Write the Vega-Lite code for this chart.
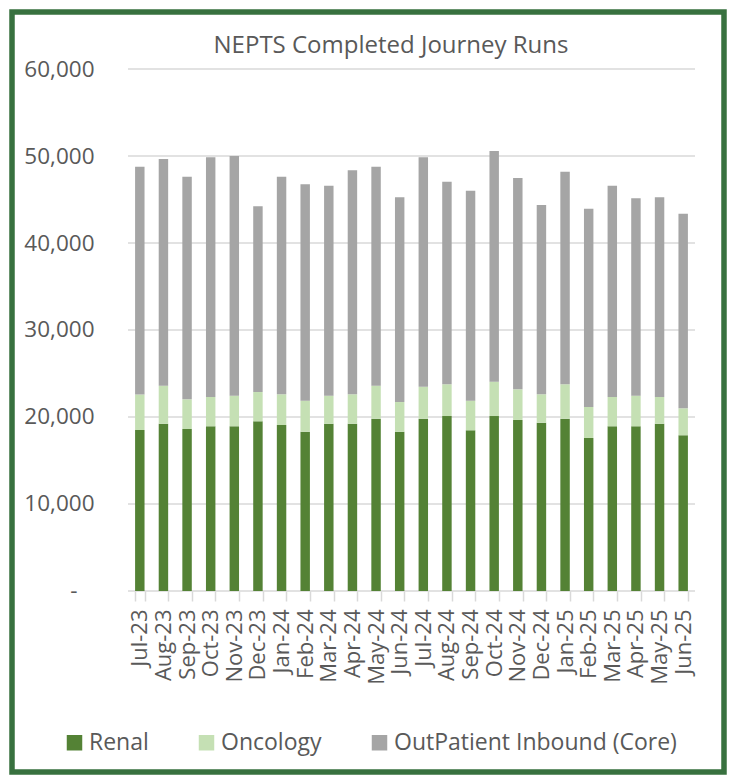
{
  "$schema": "https://vega.github.io/schema/vega-lite/v6.json",
  "width": 712,
  "height": 760,
  "autosize": {"type": "none"},
  "padding": {"left": 12, "top": 12, "right": 11, "bottom": 5},
  "background": "white",
  "config": {
    "view": {"stroke": "#38713f", "strokeWidth": 5.5},
    "font": "Open Sans"
  },
  "title": {
    "text": "NEPTS Completed Journey Runs",
    "fontSize": 24,
    "fontWeight": "normal",
    "color": "#595959",
    "anchor": "middle",
    "offset": -46,
    "dx": 23
  },
  "datasets": {
    "runs": [
      {"month": "Jul-23", "Renal": 18500, "Oncology": 4100, "OutPatient Inbound (Core)": 26160},
      {"month": "Aug-23", "Renal": 19230, "Oncology": 4370, "OutPatient Inbound (Core)": 26060},
      {"month": "Sep-23", "Renal": 18620, "Oncology": 3410, "OutPatient Inbound (Core)": 25590},
      {"month": "Oct-23", "Renal": 18930, "Oncology": 3370, "OutPatient Inbound (Core)": 27550},
      {"month": "Nov-23", "Renal": 18930, "Oncology": 3520, "OutPatient Inbound (Core)": 27550},
      {"month": "Dec-23", "Renal": 19500, "Oncology": 3370, "OutPatient Inbound (Core)": 21350},
      {"month": "Jan-24", "Renal": 19080, "Oncology": 3530, "OutPatient Inbound (Core)": 25010},
      {"month": "Feb-24", "Renal": 18310, "Oncology": 3570, "OutPatient Inbound (Core)": 24860},
      {"month": "Mar-24", "Renal": 19230, "Oncology": 3220, "OutPatient Inbound (Core)": 24140},
      {"month": "Apr-24", "Renal": 19230, "Oncology": 3380, "OutPatient Inbound (Core)": 25740},
      {"month": "May-24", "Renal": 19810, "Oncology": 3790, "OutPatient Inbound (Core)": 25170},
      {"month": "Jun-24", "Renal": 18310, "Oncology": 3410, "OutPatient Inbound (Core)": 23530},
      {"month": "Jul-24", "Renal": 19810, "Oncology": 3670, "OutPatient Inbound (Core)": 26370},
      {"month": "Aug-24", "Renal": 20110, "Oncology": 3650, "OutPatient Inbound (Core)": 23290},
      {"month": "Sep-24", "Renal": 18470, "Oncology": 3410, "OutPatient Inbound (Core)": 24130},
      {"month": "Oct-24", "Renal": 20110, "Oncology": 3950, "OutPatient Inbound (Core)": 26510},
      {"month": "Nov-24", "Renal": 19660, "Oncology": 3520, "OutPatient Inbound (Core)": 24290},
      {"month": "Dec-24", "Renal": 19350, "Oncology": 3260, "OutPatient Inbound (Core)": 21760},
      {"month": "Jan-25", "Renal": 19810, "Oncology": 3950, "OutPatient Inbound (Core)": 24440},
      {"month": "Feb-25", "Renal": 17590, "Oncology": 3560, "OutPatient Inbound (Core)": 22800},
      {"month": "Mar-25", "Renal": 18930, "Oncology": 3370, "OutPatient Inbound (Core)": 24290},
      {"month": "Apr-25", "Renal": 18930, "Oncology": 3520, "OutPatient Inbound (Core)": 22680},
      {"month": "May-25", "Renal": 19230, "Oncology": 3070, "OutPatient Inbound (Core)": 22950},
      {"month": "Jun-25", "Renal": 17900, "Oncology": 3100, "OutPatient Inbound (Core)": 22370}
    ],
    "grid": [
      {"level": 0, "from": "Jul-23", "to": "Jun-25"},
      {"level": 10000, "from": "Jul-23", "to": "Jun-25"},
      {"level": 20000, "from": "Jul-23", "to": "Jun-25"},
      {"level": 30000, "from": "Jul-23", "to": "Jun-25"},
      {"level": 40000, "from": "Jul-23", "to": "Jun-25"},
      {"level": 50000, "from": "Jul-23", "to": "Jun-25"},
      {"level": 60000, "from": "Jul-23", "to": "Jun-25"}
    ]
  },
  "layer": [
    {
      "data": {"name": "grid"},
      "mark": {"type": "rule", "color": "#d9d9d9", "strokeWidth": 1.5},
      "encoding": {
        "y": {
          "field": "level",
          "type": "quantitative",
          "title": null,
          "scale": {"domain": [-20805, 66552], "nice": false, "zero": false}
        },
        "x": {
          "field": "from",
          "type": "ordinal",
          "bandPosition": -0.75,
          "title": null,
          "scale": {
            "domain": ["Jul-23","Aug-23","Sep-23","Oct-23","Nov-23","Dec-23","Jan-24","Feb-24","Mar-24","Apr-24","May-24","Jun-24","Jul-24","Aug-24","Sep-24","Oct-24","Nov-24","Dec-24","Jan-25","Feb-25","Mar-25","Apr-25","May-25","Jun-25"],
            "range": [116, 683],
            "paddingInner": 0.6,
            "paddingOuter": 0.3
          }
        },
        "x2": {"field": "to", "bandPosition": 1.75}
      }
    },
    {
      "data": {"name": "runs"},
      "transform": [
        {"fold": ["Renal", "Oncology", "OutPatient Inbound (Core)"], "as": ["series", "runs"]},
        {"calculate": "indexof(['Renal','Oncology','OutPatient Inbound (Core)'], datum.series)", "as": "ord"}
      ],
      "mark": {"type": "bar"},
      "encoding": {
        "x": {
          "field": "month",
          "type": "ordinal",
          "sort": null,
          "title": null,
          "scale": {
            "domain": ["Jul-23","Aug-23","Sep-23","Oct-23","Nov-23","Dec-23","Jan-24","Feb-24","Mar-24","Apr-24","May-24","Jun-24","Jul-24","Aug-24","Sep-24","Oct-24","Nov-24","Dec-24","Jan-25","Feb-25","Mar-25","Apr-25","May-25","Jun-25"],
            "range": [116, 683],
            "paddingInner": 0.6,
            "paddingOuter": 0.3
          },
          "axis": {
            "orient": "bottom",
            "offset": -181,
            "domain": false,
            "grid": false,
            "ticks": true,
            "tickBand": "extent",
            "tickColor": "#d9d9d9",
            "tickSize": 10,
            "tickWidth": 1.5,
            "labelAngle": -90,
            "labelFontSize": 22,
            "labelColor": "#595959",
            "labelPadding": 8,
            "labelOverlap": false
          }
        },
        "y": {
          "field": "runs",
          "type": "quantitative",
          "stack": "zero",
          "title": null,
          "scale": {"domain": [-20805, 66552], "nice": false, "zero": false},
          "axis": {
            "orient": "left",
            "values": [0, 10000, 20000, 30000, 40000, 50000, 60000],
            "offset": -82,
            "domain": false,
            "ticks": false,
            "grid": false,
            "labelPadding": 0,
            "labelFontSize": 22.5,
            "labelColor": "#595959",
            "labelExpr": "datum.value === 0 ? '-\u2800' : format(datum.value, ',')"
          }
        },
        "color": {
          "field": "series",
          "type": "nominal",
          "scale": {
            "domain": ["Renal", "Oncology", "OutPatient Inbound (Core)"],
            "range": ["#548235", "#c5e0b4", "#a5a5a5"]
          },
          "legend": {
            "orient": "none",
            "legendX": 51,
            "legendY": 719,
            "direction": "horizontal",
            "title": null,
            "symbolType": "square",
            "symbolSize": 240,
            "symbolStrokeWidth": 0,
            "labelFontSize": 23,
            "labelLimit": 500,
            "labelColor": "#595959",
            "labelOffset": 3,
            "columnPadding": 46,
            "padding": 0
          }
        },
        "order": {"field": "ord", "type": "quantitative"}
      }
    }
  ]
}
